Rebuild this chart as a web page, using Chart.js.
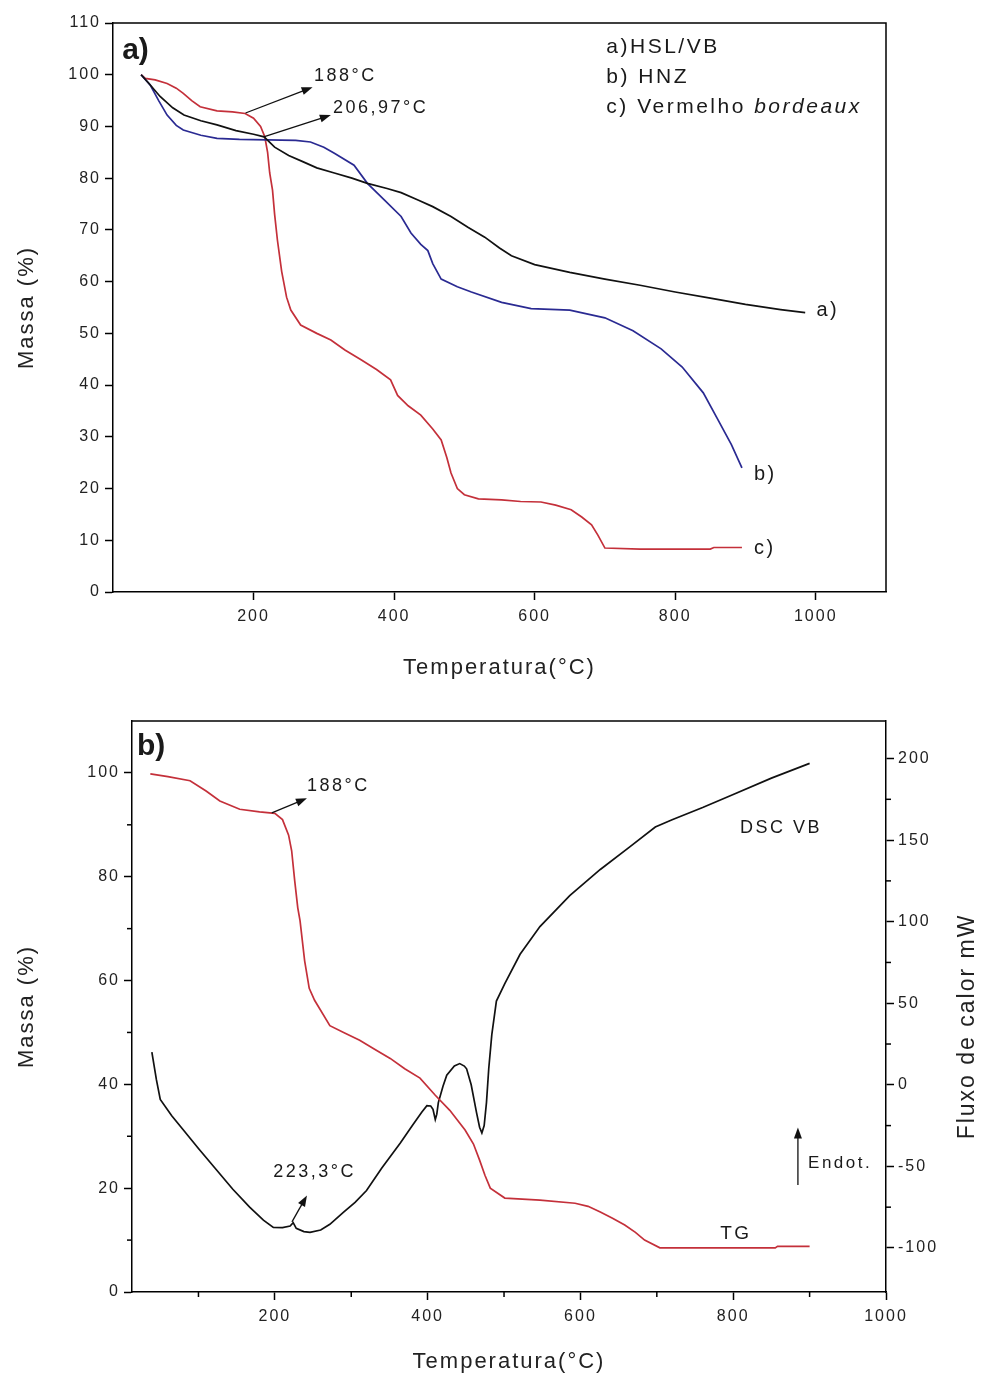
<!DOCTYPE html>
<html>
<head>
<meta charset="utf-8">
<script src="https://cdn.jsdelivr.net/npm/chart.js@4.4.1/dist/chart.umd.min.js"></script>
<style>
  html, body { margin: 0; padding: 0; background: #fff; }
  #wrap { position: relative; width: 984px; height: 1378px; overflow: hidden; }
  canvas { position: absolute; left: 0; }
</style>
</head>
<body>
<div id="wrap">
  <canvas id="chart_tgA" width="984" height="690" style="top:0px"></canvas>
  <canvas id="chart_tgDscB" width="984" height="688" style="top:690px"></canvas>
</div>
<script>
// ---- panel a) : TG curves, temperature (°C) vs massa (%)
const hslTemp = [40, 50, 67, 85, 101, 125, 148, 175, 200, 215, 230, 250, 270, 290, 315, 340, 362, 390, 410, 434, 455, 481, 505, 529, 550, 567, 600, 650, 700, 750, 800, 850, 900, 950, 985];
const hslMassa = [100, 98.5, 95.8, 93.6, 92.2, 91.1, 90.3, 89.2, 88.5, 88, 86, 84.4, 83.2, 82, 81, 80, 79, 78, 77.2, 75.8, 74.5, 72.6, 70.5, 68.6, 66.5, 65, 63.3, 61.8, 60.5, 59.3, 58, 56.8, 55.6, 54.6, 54];

const hnzTemp = [40, 53, 65, 77, 90, 100, 125, 148, 180, 219, 260, 281, 300, 315, 343, 362, 386, 410, 424, 438, 448, 455, 467, 490, 510, 553, 595, 650, 700, 740, 780, 810, 840, 860, 880, 895];
const hnzMassa = [100, 98, 95, 92.2, 90.2, 89.3, 88.3, 87.7, 87.5, 87.4, 87.3, 87, 86, 84.8, 82.5, 79, 75.8, 72.6, 69.4, 67.2, 66, 63.5, 60.5, 59, 58, 56, 54.8, 54.5, 53, 50.5, 47, 43.5, 38.5, 33.5, 28.5, 24];

const vbTemp = [40, 46, 60, 77, 90, 100, 112, 124, 148, 170, 188, 200, 210, 216, 220, 223, 227, 230, 234, 240, 247, 253, 267, 290, 310, 330, 353, 375, 395, 405, 420, 438, 455, 467, 475, 481, 490, 500, 520, 553, 580, 609, 630, 652, 667, 681, 690, 700, 750, 800, 850, 855, 895];
const vbMassa = [100, 99.3, 99, 98.3, 97.4, 96.4, 95, 93.8, 93, 92.8, 92.5, 91.6, 90, 88, 85, 81, 77.7, 73, 68, 62, 57, 54.5, 51.6, 50, 48.7, 46.8, 44.9, 43, 41, 38, 36, 34.2, 31.5, 29.4, 26, 23, 20, 18.8, 18, 17.8, 17.5, 17.4, 16.8, 15.9, 14.5, 13, 11, 8.5, 8.3, 8.3, 8.3, 8.6, 8.6];

const xTicksA = [200, 400, 600, 800, 1000];
const yTicksA = [0, 10, 20, 30, 40, 50, 60, 70, 80, 90, 100, 110];

// ---- panel b) : TG (massa %) and DSC (fluxo de calor mW) of vermelho bordeaux
const tgTemp = [37, 60, 89, 110, 128, 154, 180, 200, 210, 218, 222, 226, 230, 233, 239, 245, 252, 272, 290, 311, 330, 351, 370, 390, 410, 429, 449, 460, 468, 475, 482, 501, 547, 593, 610, 626, 642, 658, 672, 684, 704, 760, 855, 858, 900];
const tgMassa = [99.8, 99.3, 98.5, 96.5, 94.6, 93, 92.5, 92.2, 91, 88, 85, 79.2, 74, 71.5, 63.8, 58.5, 56.2, 51.3, 50, 48.5, 46.8, 45, 43, 41.2, 37.9, 35, 31.2, 28.5, 25.4, 22.5, 20, 18.1, 17.7, 17.1, 16.5, 15.4, 14.2, 12.9, 11.5, 10, 8.5, 8.5, 8.5, 8.8, 8.8];

const dscTemp = [39, 45, 50, 65, 80, 100, 124, 145, 167, 185, 198, 210, 220, 224, 228, 238, 246, 260, 272, 290, 305, 320, 340, 364, 380, 392, 399, 404, 407, 410, 412, 414, 420, 425, 435, 442, 448, 451, 457, 464, 468, 471, 474, 477, 480, 484, 490, 501, 521, 547, 586, 626, 665, 698, 720, 760, 800, 850, 900];
const dscFluxo = [20, 3, -9, -19, -27.5, -39, -52.4, -64, -75, -83, -87.4, -87.5, -86.6, -84.5, -88, -90, -90.5, -89, -85.5, -78, -72, -64.8, -51, -35.8, -25, -17, -12.8, -13, -15, -21.3, -18, -10.9, -1, 5.9, 11.5, 13, 11.5, 9.8, 0, -17.1, -26, -29.5, -25, -10.9, 10, 30.8, 51.3, 62, 80, 97, 116, 132, 146, 158, 162.5, 170, 178, 188, 197];

const xTicksB = [200, 400, 600, 800, 1000];
const xMinorB = [100, 300, 500, 700, 900];
const yTicksB = [0, 20, 40, 60, 80, 100];
const yMinorB = [10, 30, 50, 70, 90];
const y2TicksB = [-100, -50, 0, 50, 100, 150, 200];
const y2MinorB = [-75, -25, 25, 75, 125, 175];

const FONT = "'Liberation Sans', Arial, sans-serif";
const RED = '#c4303a';
const BLUE = '#2a2a92';
const BLACK = '#111111';

// annotations, placed in data units (x: °C, y: massa %)
const notesA = [
  { parts: [['a)', 'bold 30px']], x: 13, y: 104.6 },
  { parts: [['a)HSL/VB', '21px']], x: 702, y: 105.4 },
  { parts: [['b) HNZ', '21px']], x: 702, y: 99.6 },
  { parts: [['c) Vermelho ', '21px'], ['bordeaux', 'italic 21px']], x: 702, y: 93.8 },
  { parts: [['a)', '20px']], x: 1001, y: 54.5 },
  { parts: [['b)', '20px']], x: 912, y: 22.8 },
  { parts: [['c)', '20px']], x: 912, y: 8.5 },
  { parts: [['188°C', '18px']], x: 286, y: 99.8 },
  { parts: [['206,97°C', '18px']], x: 313, y: 93.5 }
];
const arrowsA = [
  { from: [188.6, 92.6], to: [284, 97.6] },
  { from: [214.4, 88], to: [310, 92.2] }
];
const notesB = [
  { parts: [['b)', 'bold 30px']], x: 19.5, y: 105.1 },
  { parts: [['188°C', '18px']], x: 242, y: 97.4 },
  { parts: [['223,3°C', '18px']], x: 198, y: 23.1 },
  { parts: [['DSC VB', '18px']], x: 809, y: 89.3 },
  { parts: [['TG', '19px']], x: 783, y: 11.3 },
  { parts: [['Endot.', '17px']], x: 898, y: 24.8 }
];
const arrowsB = [
  { from: [196, 92.3], to: [242, 95.1] },
  { from: [222.4, 13.5], to: [242, 18.6] },
  { from: [884.7, 20.6], to: [884.7, 31.7] }
];

const pts = (xs, ys) => xs.map((x, i) => ({ x: x, y: ys[i] }));

Chart.defaults.font.family = FONT;
Chart.defaults.color = '#222';

const spacing = {
  id: 'spacing',
  beforeDraw: (chart) => {
    const ctx = chart.ctx;
    ctx.save();
    ctx.fillStyle = 'white';
    ctx.fillRect(0, 0, chart.width, chart.height);
    ctx.restore();
    ctx.letterSpacing = '2px';
  }
};

// frame lines (top edge, and right edge when there is no second axis)
const frame = {
  id: 'frame',
  afterDraw: (chart, args, opts) => {
    const ctx = chart.ctx, a = chart.chartArea;
    ctx.save();
    ctx.strokeStyle = '#000';
    ctx.lineWidth = 1.5;
    ctx.beginPath();
    ctx.moveTo(a.left, a.top);
    ctx.lineTo(a.right, a.top);
    if (opts.right) ctx.lineTo(a.right, a.bottom);
    ctx.stroke();
    ctx.restore();
  }
};

const minorTicks = {
  id: 'minorTicks',
  afterDraw: (chart, args, opts) => {
    if (!opts.list) return;
    const ctx = chart.ctx;
    ctx.save();
    ctx.strokeStyle = '#000';
    ctx.lineWidth = 1.5;
    opts.list.forEach(m => {
      const s = chart.scales[m.axis];
      m.values.forEach(v => {
        const p = s.getPixelForValue(v);
        ctx.beginPath();
        if (s.isHorizontal()) { ctx.moveTo(p, s.top); ctx.lineTo(p, s.top + 5); }
        else if (s.position === 'left') { ctx.moveTo(s.right, p); ctx.lineTo(s.right - 5, p); }
        else { ctx.moveTo(s.left, p); ctx.lineTo(s.left + 5, p); }
        ctx.stroke();
      });
    });
    ctx.restore();
  }
};

const notes = {
  id: 'notes',
  afterDraw: (chart, args, opts) => {
    const ctx = chart.ctx, sx = chart.scales.x, sy = chart.scales.y;
    ctx.save();
    ctx.fillStyle = '#1a1a1a';
    ctx.strokeStyle = '#111';
    ctx.textBaseline = 'middle';
    ctx.textAlign = 'left';
    (opts.texts || []).forEach(n => {
      let px = sx.getPixelForValue(n.x);
      const py = sy.getPixelForValue(n.y);
      ctx.letterSpacing = n.parts[0][1].indexOf('bold') >= 0 ? '0px' : '2.5px';
      n.parts.forEach(p => {
        ctx.font = p[1] + ' ' + FONT;
        ctx.fillText(p[0], px, py);
        px += ctx.measureText(p[0]).width;
      });
    });
    (opts.arrows || []).forEach(a => {
      const x1 = sx.getPixelForValue(a.from[0]), y1 = sy.getPixelForValue(a.from[1]);
      const x2 = sx.getPixelForValue(a.to[0]), y2 = sy.getPixelForValue(a.to[1]);
      const ang = Math.atan2(y2 - y1, x2 - x1);
      ctx.lineWidth = 1.3;
      ctx.beginPath();
      ctx.moveTo(x1, y1);
      ctx.lineTo(x2 - 8 * Math.cos(ang), y2 - 8 * Math.sin(ang));
      ctx.stroke();
      ctx.beginPath();
      ctx.moveTo(x2, y2);
      ctx.lineTo(x2 - 11 * Math.cos(ang) + 4 * Math.sin(ang), y2 - 11 * Math.sin(ang) - 4 * Math.cos(ang));
      ctx.lineTo(x2 - 11 * Math.cos(ang) - 4 * Math.sin(ang), y2 - 11 * Math.sin(ang) + 4 * Math.cos(ang));
      ctx.closePath();
      ctx.fillStyle = '#111';
      ctx.fill();
    });
    if (opts.rightTitle) {
      const a = chart.chartArea;
      ctx.font = '23px ' + FONT;
      ctx.letterSpacing = '2px';
      ctx.fillStyle = '#222';
      ctx.textAlign = 'center';
      ctx.translate(chart.width - 16, (a.top + a.bottom) / 2 + 20);
      ctx.rotate(-Math.PI / 2);
      ctx.fillText(opts.rightTitle, 0, 0);
    }
    ctx.restore();
  }
};

const axisLook = (len) => ({
  grid: { drawOnChartArea: false, drawTicks: true, tickLength: len, tickColor: '#000', tickWidth: 1.5 },
  border: { display: true, color: '#000', width: 1.5 }
});
const tickFont = { family: FONT, size: 16 };
const titleFont = { family: FONT, size: 22 };
const setTicks = (list) => (s) => { s.ticks = list.map(v => ({ value: v })); };
const plainLabel = (v) => String(v);

const line = (label, data, color, axis) => ({
  label: label, data: data, borderColor: color, backgroundColor: color,
  borderWidth: 1.7, pointRadius: 0, tension: 0, fill: false, yAxisID: axis || 'y'
});

var chart_tgA = new Chart(document.getElementById('chart_tgA'), {
  type: 'line',
  data: {
    datasets: [
      line('a)HSL/VB', pts(hslTemp, hslMassa), BLACK),
      line('b) HNZ', pts(hnzTemp, hnzMassa), BLUE),
      line('c) Vermelho bordeaux', pts(vbTemp, vbMassa), RED)
    ]
  },
  options: {
    animation: false,
    responsive: false,
    layout: { padding: { left: 0, top: 23, right: 98, bottom: 0 } },
    plugins: {
      legend: { display: false },
      tooltip: { enabled: false },
      frame: { right: true },
      notes: { texts: notesA, arrows: arrowsA }
    },
    scales: {
      x: Object.assign({
        type: 'linear', min: 0, max: 1100,
        afterBuildTicks: setTicks(xTicksA),
        afterFit: (s) => { s.height = 98; },
        ticks: { font: tickFont, color: '#222', padding: 7, maxRotation: 0, autoSkip: false, callback: plainLabel },
        title: { display: true, text: 'Temperatura(°C)', font: titleFont, color: '#222', padding: { bottom: 9 } }
      }, axisLook(8)),
      y: Object.assign({
        type: 'linear', min: 0, max: 110,
        afterBuildTicks: setTicks(yTicksA),
        afterFit: (s) => { s.width = 113; },
        ticks: { font: tickFont, color: '#222', padding: 4, autoSkip: false, callback: plainLabel },
        title: { display: true, text: 'Massa (%)', font: titleFont, color: '#222', padding: { top: 14 } }
      }, axisLook(8))
    }
  },
  plugins: [spacing, frame, notes]
});

var chart_tgDscB = new Chart(document.getElementById('chart_tgDscB'), {
  type: 'line',
  data: {
    datasets: [
      line('TG', pts(tgTemp, tgMassa), RED),
      line('DSC VB', pts(dscTemp, dscFluxo), BLACK, 'y2')
    ]
  },
  options: {
    animation: false,
    responsive: false,
    layout: { padding: { left: 0, top: 31, right: 0, bottom: 0 } },
    plugins: {
      legend: { display: false },
      tooltip: { enabled: false },
      frame: { right: false },
      minorTicks: { list: [
        { axis: 'x', values: xMinorB },
        { axis: 'y', values: yMinorB },
        { axis: 'y2', values: y2MinorB }
      ] },
      notes: { texts: notesB, arrows: arrowsB, rightTitle: 'Fluxo de calor mW' }
    },
    scales: {
      x: Object.assign({
        type: 'linear', min: 13, max: 1000,
        afterBuildTicks: setTicks(xTicksB),
        afterFit: (s) => { s.height = 86; },
        ticks: { font: tickFont, color: '#222', padding: 7, maxRotation: 0, autoSkip: false, callback: plainLabel },
        title: { display: true, text: 'Temperatura(°C)', font: titleFont, color: '#222', padding: { bottom: 3 } }
      }, axisLook(8)),
      y: Object.assign({
        type: 'linear', position: 'left', min: 0, max: 110,
        afterBuildTicks: setTicks(yTicksB),
        afterFit: (s) => { s.width = 132; },
        ticks: { font: tickFont, color: '#222', padding: 4, autoSkip: false, callback: plainLabel },
        title: { display: true, text: 'Massa (%)', font: titleFont, color: '#222', padding: { top: 14 } }
      }, axisLook(8)),
      y2: Object.assign({
        type: 'linear', position: 'right', min: -127, max: 223,
        afterBuildTicks: setTicks(y2TicksB),
        afterFit: (s) => { s.width = 98; },
        ticks: { font: tickFont, color: '#222', padding: 4, autoSkip: false, callback: plainLabel }
      }, axisLook(8))
    }
  },
  plugins: [spacing, frame, minorTicks, notes]
});
</script>
</body>
</html>
